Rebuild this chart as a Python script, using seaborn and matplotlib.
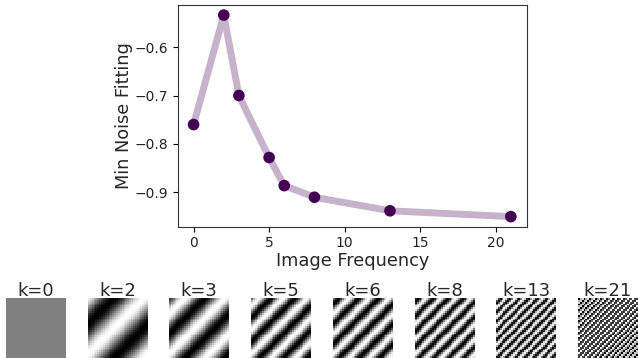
import numpy as np
import pandas as pd
import matplotlib
matplotlib.use("Agg")
import matplotlib.pyplot as plt
import seaborn as sns

# data
freqs = [0, 2, 3, 5, 6, 8, 13, 21]
min_noise_fitting = [-0.760, -0.534, -0.700, -0.828, -0.886, -0.910, -0.938, -0.950]
thumb_titles = ["k=0", "k=2", "k=3", "k=5", "k=6", "k=8", "k=13", "k=21"]

sns.set_style("white")
plt.rcParams["font.family"] = ["DejaVu Sans"]

W, H = 638, 358
fig = plt.figure(figsize=(W / 100, H / 100), dpi=100)

def px_axes(x0, y0, x1, y1):
    return fig.add_axes([x0 / W, 1 - y1 / H, (x1 - x0) / W, (y1 - y0) / H])

ax = px_axes(177.7, 5, 526.7, 226.7)
df = pd.DataFrame({"Image Frequency": freqs, "Min Noise Fitting": min_noise_fitting})
purple = "#440154"
sns.lineplot(data=df, x="Image Frequency", y="Min Noise Fitting", ax=ax,
             color=purple, alpha=0.3, linewidth=5, zorder=2)
sns.scatterplot(data=df, x="Image Frequency", y="Min Noise Fitting", ax=ax,
                color=purple, s=70, edgecolor="none", zorder=3)
ax.set_yticks([-0.9, -0.8, -0.7, -0.6])
ax.set_xticks([0, 5, 10, 15, 20])
ax.tick_params(axis="both", labelsize=10, length=3.5, width=0.8, left=True, bottom=True,
               color="black", labelcolor="#222222")
ax.set_xlabel("Image Frequency", fontsize=12.8, labelpad=1)
ax.set_ylabel("Min Noise Fitting", fontsize=12.8, labelpad=1)
for sp in ax.spines.values():
    sp.set_color("#333333")
    sp.set_linewidth(0.8)

# thumbnails of the gratings for each frequency
N = 32
ii, jj = np.meshgrid(np.arange(N), np.arange(N), indexing="ij")
lefts = [6, 87.7, 169.3, 251, 333, 414.7, 496.3, 577.7]
for k, title, x0 in zip(freqs, thumb_titles, lefts):
    tax = px_axes(x0, 298.3, x0 + 59.5, 358)
    if k == 0:
        img = np.zeros((N, N))
    else:
        img = np.cos(np.pi * k * (ii + jj - N + 3) / N)
    tax.imshow(img, cmap="gray", vmin=-1, vmax=1, interpolation="nearest", aspect="auto")
    tax.set_axis_off()
    tax.set_title(title, fontsize=13, pad=2)

fig.savefig("out.png", dpi=100)
